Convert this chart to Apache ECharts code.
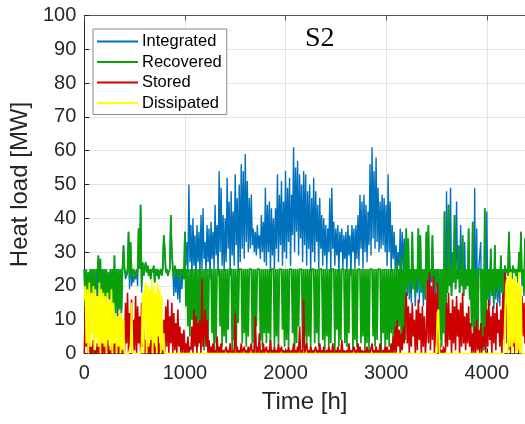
<!DOCTYPE html>
<html>
<head>
<meta charset="utf-8">
<script src="https://cdn.jsdelivr.net/npm/echarts@6/dist/echarts.min.js"></script>
<style>html,body{margin:0;padding:0;background:#fff}#c{width:525px;height:424px}</style>
</head>
<body>
<div id="c"></div>
<script>
// time step of the samples [h]
const STEP = 10;
const xTicks = [0, 1000, 2000, 3000, 4000];
const seriesNames = ['Integrated', 'Recovered', 'Stored', 'Dissipated'];

const integrated = [
25,14,25,16,24,12,25,17,25,15,25,13,25,17,29,16,28,14,25,17,
25,15,25,13,24,16,25,12,25,14,29,10,25,11,25,10,25,12,25,32,
25,22,23,24,36,19,33,20,23,21,24,22,25,20,37,25,44,18,27,23,
25,27,24,26,23,25,22,25,24,26,21,25,23,25,22,24,25,23,25,35,
31,24,25,23,24,25,41,30,25,17,26,18,25,16,25,15,25,19,25,22,
36,26,33,24,50,27,38,22,40,26,35,21,38,27,36,23,41,25,43,28,
33,24,38,27,37,22,39,28,36,25,44,29,38,23,54,30,49,26,41,24,
40,27,52,31,45,23,48,29,42,26,53,32,46,24,50,27,56,31,54,28,
59,33,51,30,46,31,47,32,37,30,36,29,38,31,35,28,41,30,39,27,
49,26,44,30,45,24,43,29,40,25,43,31,53,27,47,32,51,26,45,30,
54,28,49,33,52,26,47,35,61,30,55,36,57,29,53,34,50,27,54,32,
53,26,48,31,50,24,46,30,52,27,48,33,44,25,46,31,41,26,40,29,
38,25,37,30,46,24,49,31,39,26,37,29,38,23,36,30,37,25,35,28,
36,24,38,29,35,23,38,30,37,25,38,28,41,26,47,31,45,25,47,30,
44,27,42,32,56,29,61,34,54,31,58,33,49,30,45,31,47,32,46,30,
44,26,53,30,45,24,38,28,36,25,32,24,30,26,37,23,36,25,34,22,
37,17,34,16,25,15,36,19,25,14,25,18,37,15,35,18,25,14,25,16,
36,20,38,18,25,21,35,17,25,16,25,20,25,4,25,2,25,6,42,3,
48,18,44,20,49,17,30,21,41,19,45,22,32,18,38,20,35,17,33,19,
25,20,37,16,25,8,39,3,49,5,37,2,25,25,33,4,25,1,43,6,
42,16,25,14,31,17,25,13,32,16,25,15,25,14,29,18,25,16,26,24,
25,23,36,24,25,22,26,24,25,23,25,21,30,24,36,20,25,17,34
];

const recovered = [
25,14,25,16,24,12,25,17,25,15,25,13,25,24,29,16,28,14,25,17,
25,16,25,14,24,17,25,13,25,15,29,12,25,14,25,11,25,13,25,32,
25,24,23,25,36,22,33,25,23,25,24,22,25,24,37,25,44,20,27,23,
25,27,24,26,23,25,22,25,24,26,21,25,23,25,22,24,25,23,25,35,
31,24,25,23,24,25,41,30,25,22,26,24,25,23,25,21,25,24,25,22,
36,14,25,8,25,5,25,10,25,3,25,7,25,2,25,6,25,4,25,1,
25,4,25,2,25,25,25,6,25,1,25,3,25,25,25,8,25,2,25,5,
25,3,25,7,25,25,25,1,25,4,25,2,25,9,25,25,25,3,25,6,
25,2,25,5,25,25,25,3,25,1,25,8,25,25,25,4,25,2,25,6,
25,3,25,6,25,1,25,25,25,2,25,5,25,3,25,25,25,7,25,2,
25,4,25,2,25,25,25,6,25,1,25,3,25,8,25,25,25,2,25,5,
25,2,25,5,25,1,25,25,25,3,25,6,25,2,25,25,25,4,25,1,
25,5,25,2,25,3,25,25,25,1,25,7,25,2,25,4,25,25,25,3,
25,2,25,6,25,25,25,1,25,4,25,2,25,25,25,3,25,5,25,1,
25,3,25,1,25,25,25,5,25,2,25,4,25,25,25,1,25,6,25,2,
25,4,25,2,25,6,25,3,25,1,27,5,25,8,29,3,25,6,31,4,
37,20,34,18,25,21,36,19,25,17,25,22,37,19,35,18,25,20,25,16,
36,22,38,20,25,23,35,21,25,19,25,22,25,4,25,2,25,6,42,3,
25,18,44,20,25,17,30,21,41,19,25,22,32,18,25,20,35,17,25,19,
25,20,37,16,25,8,39,3,25,5,25,2,25,25,25,4,25,1,43,6,
25,16,25,18,31,17,25,15,32,19,25,17,25,20,29,18,25,16,26,24,
25,23,36,24,25,22,26,24,25,23,25,21,30,24,36,22,25,18,34
];

const stored = [
0,13,2,12,0,3,0,2,0,4,0,1,0,3,0,2,0,5,0,3,
0,3,0,5,0,2,0,8,0,3,0,6,0,9,0,4,0,7,0,5,
0,15,3,18,0,12,2,16,0,10,1,17,0,14,3,11,0,15,2,9,
0,4,0,6,0,3,0,12,0,5,0,2,0,8,0,3,0,6,0,10,
0,14,2,16,0,11,3,15,0,12,1,9,0,13,2,8,0,6,0,7,
0,3,0,5,0,2,1,8,0,13,2,11,0,9,3,10,0,22,2,6,
13,2,10,0,4,0,2,0,3,0,1,0,5,0,2,0,3,0,1,0,
0,2,0,1,0,3,0,0,1,0,12,0,2,0,1,0,3,0,0,2,
0,1,0,2,0,0,3,0,1,0,11,0,2,0,6,0,1,0,3,0,
0,2,0,1,0,4,0,1,0,2,0,1,0,3,0,0,2,0,1,0,
0,1,0,2,0,0,1,0,3,0,1,0,2,0,8,0,1,0,16,0,
0,3,0,1,0,2,0,1,0,0,2,0,1,0,3,0,1,0,2,0,
0,1,0,2,0,1,0,3,0,0,1,0,2,0,1,0,4,0,1,0,
0,1,0,3,0,1,0,0,2,0,1,0,3,0,2,0,1,0,0,1,
0,2,0,1,0,0,3,0,1,0,2,0,1,0,3,0,0,1,0,2,
0,2,0,1,0,3,0,5,0,8,0,10,2,7,0,6,1,8,3,12,
18,3,14,0,12,2,15,5,10,0,13,1,16,4,12,0,14,2,11,0,
5,22,3,24,1,20,4,23,0,18,2,21,0,3,0,1,0,2,0,1,
15,2,18,4,12,0,16,3,14,1,17,5,13,0,15,2,18,3,11,1,
12,3,14,2,9,0,6,0,8,0,10,1,7,0,9,0,5,2,8,0,
13,2,16,4,11,0,14,3,12,1,15,6,10,2,13,0,18,4,24,22,
3,20,1,18,0,15,2,12,0,16,1,10,0,14,2,17,5,15,3
];

const dissipated = [
16,20,3,19,0,21,2,18,6,20,1,19,4,17,2,21,0,19,3,18,
2,17,0,18,4,16,1,19,0,15,3,12,0,11,2,13,0,12,1,10,
0,0,0,0,0,0,2,15,0,0,0,0,0,0,0,0,0,3,18,0,
18,21,0,20,2,19,4,22,0,20,3,18,0,21,5,19,0,17,1,6,
0,0,0,0,0,0,0,0,0,0,0,0,0,0,0,0,0,0,0,0,
0,0,0,0,0,0,0,0,0,0,0,0,0,0,0,0,0,0,0,0,
0,0,0,0,0,0,0,0,0,0,0,0,0,0,0,0,0,0,0,0,
0,0,0,0,0,0,0,0,0,0,0,0,0,0,0,0,0,0,0,0,
0,0,0,0,0,0,0,0,0,0,0,0,0,0,0,0,0,0,0,0,
0,0,0,0,0,0,0,0,0,0,0,0,0,0,0,0,0,0,0,0,
0,0,0,0,0,0,0,0,0,0,0,0,0,0,0,0,0,0,0,0,
0,0,0,0,0,0,0,0,0,0,0,0,0,0,0,0,0,0,0,0,
0,0,0,0,0,0,0,0,0,0,0,0,0,0,0,0,0,0,0,0,
0,0,0,0,0,0,0,0,0,0,0,0,0,0,0,0,0,0,0,0,
0,0,0,0,0,0,0,0,0,0,0,0,0,0,0,0,0,0,0,0,
0,0,0,0,0,0,0,0,0,0,0,0,0,0,0,0,0,0,0,0,
0,0,0,0,0,0,0,0,0,0,0,0,0,0,0,0,0,0,0,0,
0,0,0,0,0,0,0,0,0,0,0,12,13,0,0,0,0,0,0,0,
0,0,0,0,0,0,0,0,0,0,0,0,0,0,0,0,0,0,0,0,
0,0,0,0,0,0,0,0,0,0,0,0,0,0,0,0,0,0,0,0,
0,0,0,0,0,0,0,0,0,0,0,0,0,0,0,0,0,0,0,20,
22,0,23,2,24,0,22,3,23,0,21,1,24,0,20,0,0,0,0
];

const colors = ['#0072BD', '#0aa00a', '#cc0000', '#ffff00'];
const widths = [1.4, 1.7, 1.6, 1.7];
const FONT = '"Liberation Sans", Arial, Helvetica, sans-serif';

function toPairs(arr) { return arr.map((v, i) => [i * STEP, v]); }

const chart = echarts.init(document.getElementById('c'), null, {renderer: 'canvas'});
const dataSets = [integrated, recovered, stored, dissipated];

chart.setOption({
  animation: false,
  backgroundColor: '#fff',
  textStyle: {fontFamily: FONT},
  title: {
    text: 'S2', left: 305, top: 25, padding: 0,
    textStyle: {fontFamily: '"Liberation Serif", "Times New Roman", serif', fontSize: 28, fontWeight: 'normal', color: '#000'}
  },
  legend: {
    data: seriesNames,
    orient: 'vertical',
    left: 93, top: 29,
    padding: [4, 5, 3, 4],
    itemGap: 3.5,
    itemWidth: 41, itemHeight: 2,
    icon: 'rect',
    borderColor: '#8a8a8a', borderWidth: 1,
    backgroundColor: '#fff',
    textStyle: {fontFamily: FONT, fontSize: 16.5, color: '#000', padding: [0, 0, 0, -1]}
  },
  grid: {left: 80, right: 0, top: 15.5, bottom: 70.5, containLabel: false},
  xAxis: [{
    type: 'value', min: 0, max: 4380, interval: 1000,
    name: 'Time [h]', nameLocation: 'middle', nameGap: 37,
    nameTextStyle: {fontFamily: FONT, fontSize: 24, color: '#262626'},
    axisLine: {show: true, lineStyle: {color: '#262626'}},
    axisTick: {show: true, inside: true, length: 5, lineStyle: {color: '#262626'}},
    axisLabel: {fontFamily: FONT, fontSize: 20, color: '#262626', margin: 10, showMaxLabel: false,
      formatter: v => (xTicks.indexOf(v) >= 0 ? String(v) : '')},
    splitLine: {show: true, lineStyle: {color: '#e3e3e3'}}
  }, {
    type: 'value', min: 0, max: 4380, interval: 1000, position: 'top',
    axisLine: {show: true, lineStyle: {color: '#555'}},
    axisTick: {show: true, inside: true, length: 5, lineStyle: {color: '#555'}},
    axisLabel: {show: false},
    splitLine: {show: false}
  }],
  yAxis: {
    type: 'value', min: 0, max: 100, interval: 10,
    name: 'Heat load [MW]', nameLocation: 'middle', nameGap: 46,
    nameTextStyle: {fontFamily: FONT, fontSize: 24, color: '#262626'},
    axisLine: {show: true, lineStyle: {color: '#262626'}},
    axisTick: {show: true, inside: true, length: 5, lineStyle: {color: '#262626'}},
    axisLabel: {fontFamily: FONT, fontSize: 20, color: '#262626', margin: 8},
    splitLine: {show: true, lineStyle: {color: '#e3e3e3'}}
  },
  series: seriesNames.map((name, k) => ({
    name: name,
    type: 'line',
    xAxisIndex: 0,
    data: toPairs(dataSets[k]),
    showSymbol: false,
    symbol: 'none',
    sampling: null,
    z: 2 + k,
    color: colors[k],
    lineStyle: {width: widths[k], color: colors[k]},
    itemStyle: {color: colors[k]}
  }))
});
</script>
</body>
</html>
